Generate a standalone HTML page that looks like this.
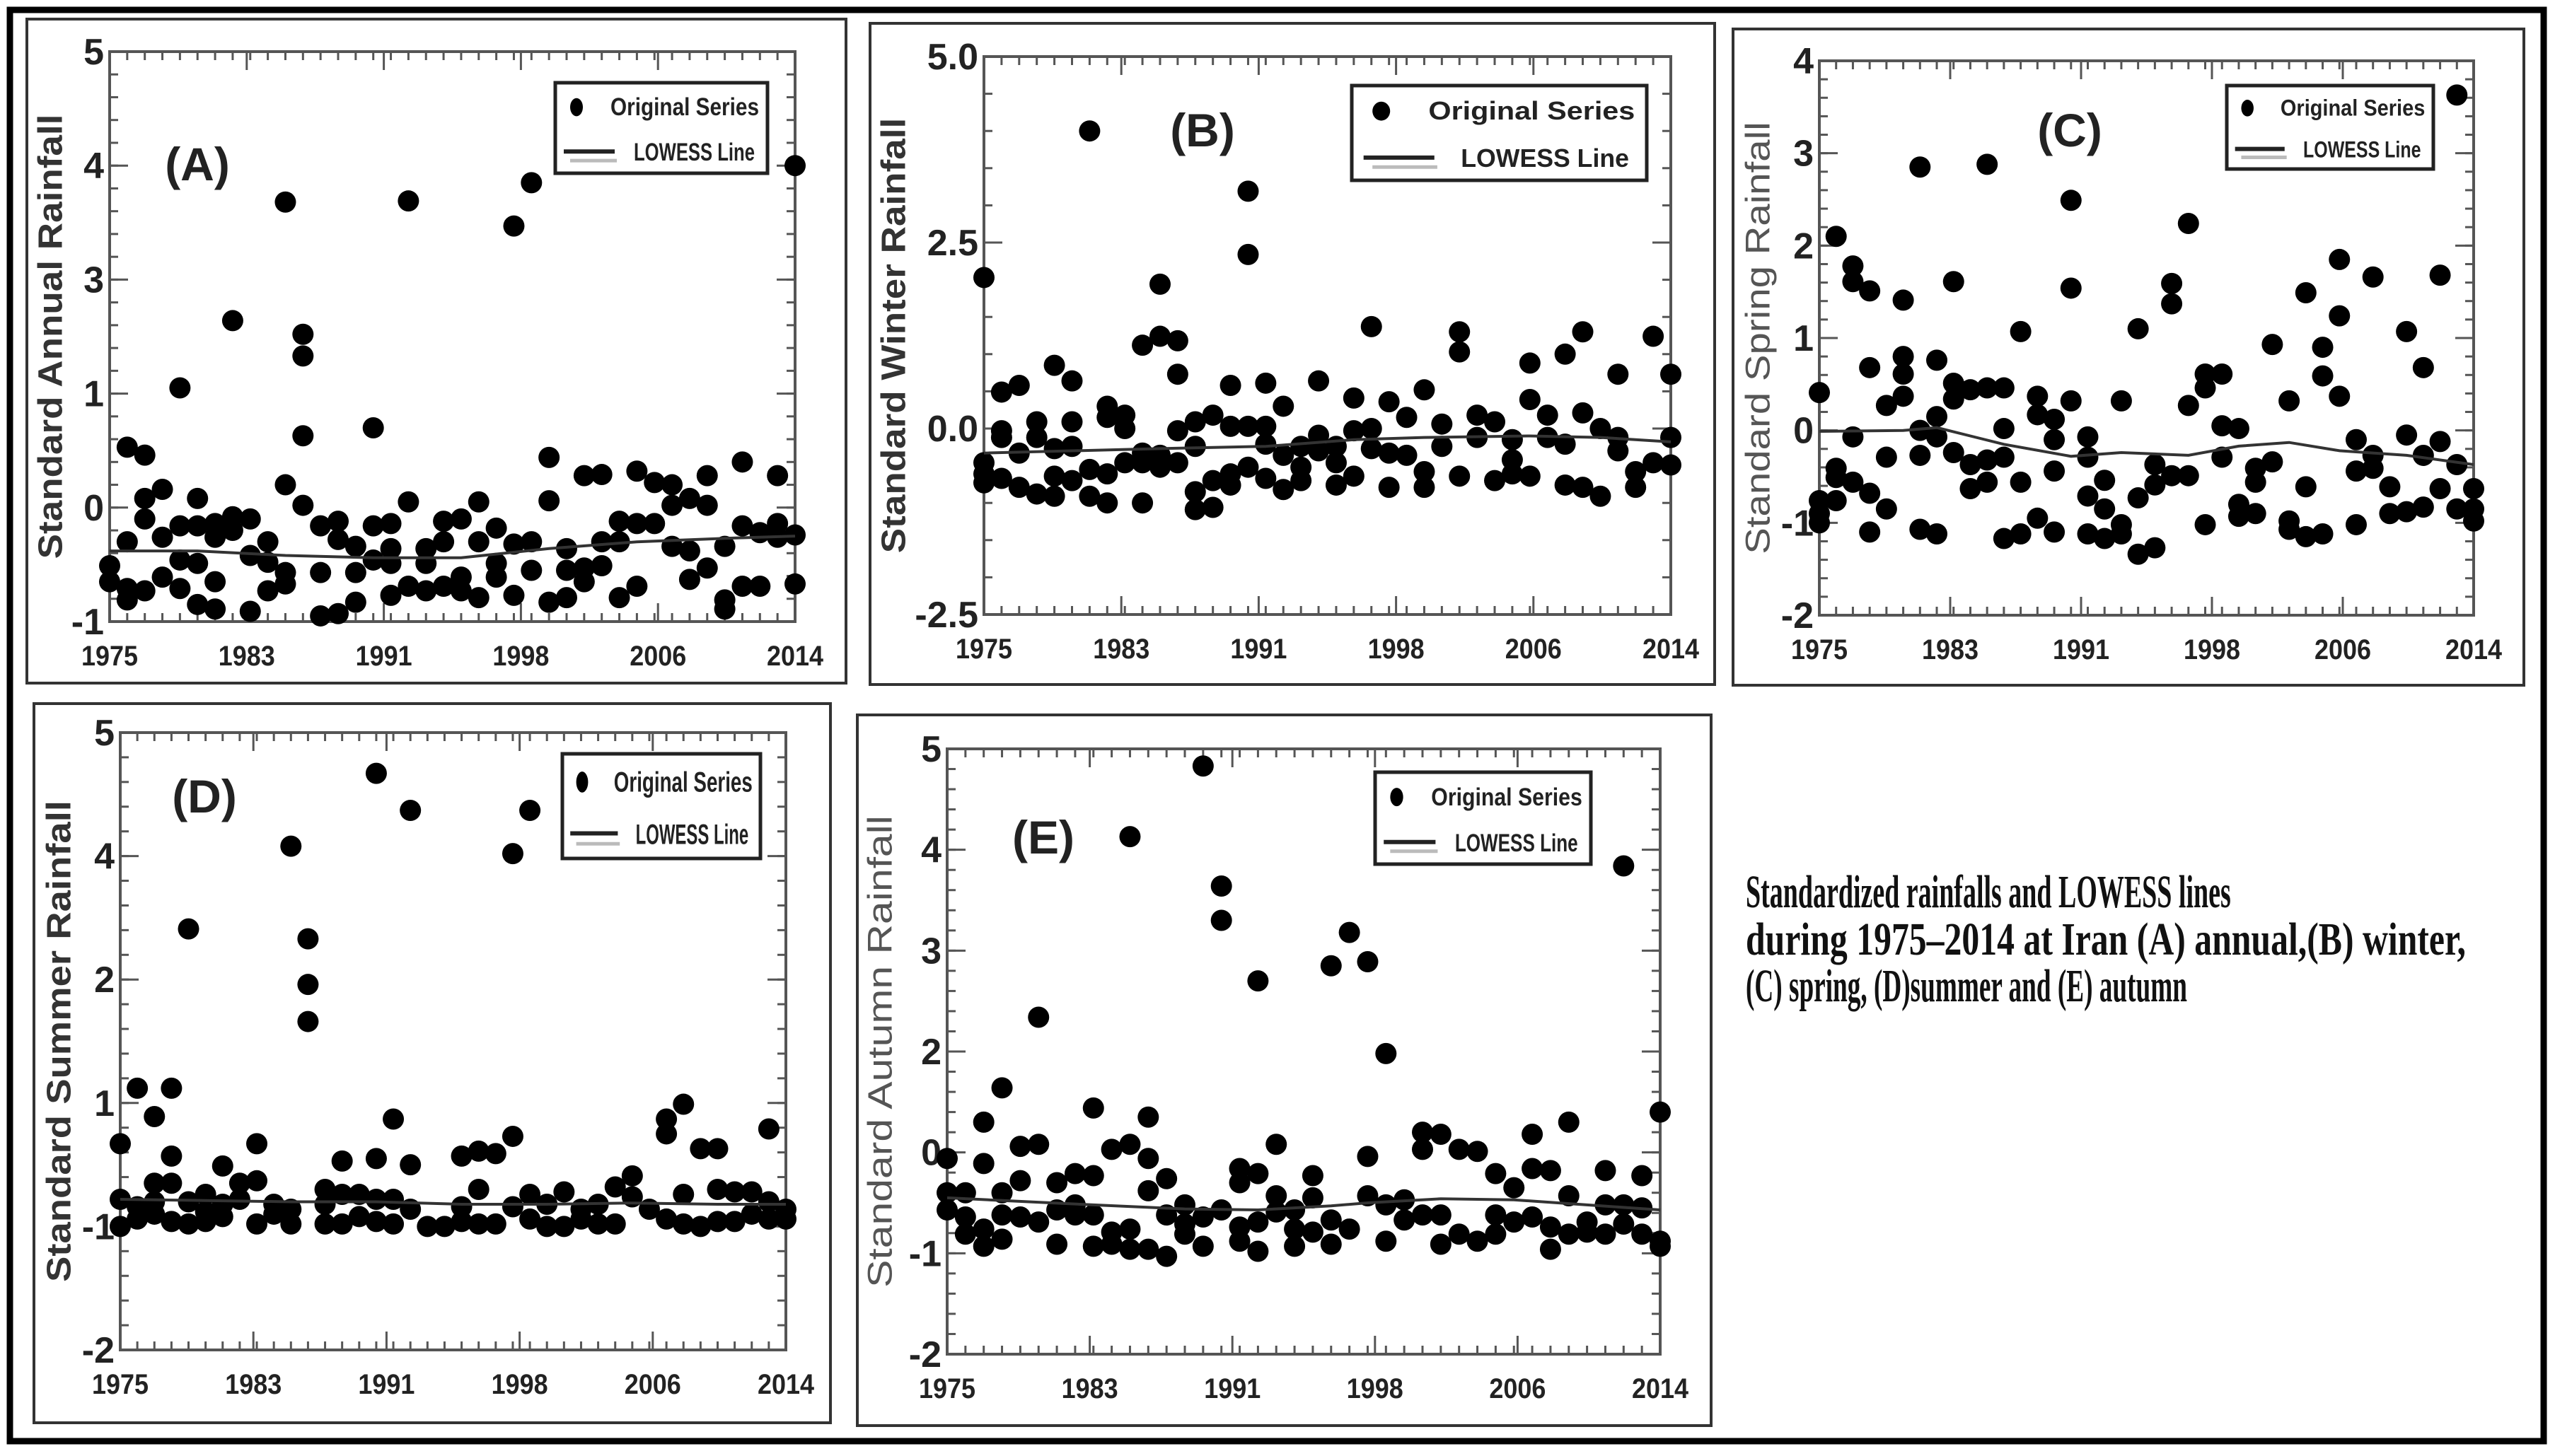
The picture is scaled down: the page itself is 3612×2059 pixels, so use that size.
<!DOCTYPE html>
<html><head><meta charset="utf-8"><title>Standardized rainfalls and LOWESS lines</title>
<style>html,body{margin:0;padding:0;background:#fff}svg{display:block}</style></head>
<body>
<svg id="fig" xmlns="http://www.w3.org/2000/svg" width="3612" height="2059" viewBox="0 0 3612 2059">
<rect x="0" y="0" width="3612" height="2059" fill="#fff"/>
<rect x="14" y="14" width="3582" height="2024" fill="none" stroke="#000" stroke-width="9"/>
<g font-family="Liberation Serif, serif" font-weight="bold" font-size="66" fill="#111">
<text id="cap1" x="0" y="0">Standardized rainfalls and LOWESS lines</text>
<text id="cap2" x="0" y="0">during 1975–2014 at Iran (A) annual,(B) winter,</text>
<text id="cap3" x="0" y="0">(C) spring, (D)summer and (E) autumn</text>
</g>
</svg>
<script>
// ---------- DATA ----------
var years = [1975,1976,1977,1978,1979,1980,1981,1982,1983,1984,1985,1986,1987,1988,1989,1990,1991,1992,1993,1994,1995,1996,1997,1998,1999,2000,2001,2002,2003,2004,2005,2006,2007,2008,2009,2010,2011,2012,2013,2014];
var xTickLabels = ["1975","1983","1991","1998","2006","2014"];

// Panel A (visual y units; ticks labelled below)
var annualVals = [[-0.51,-0.65],[0.53,-0.30,-0.71,-0.81],[0.46,0.08,-0.10,-0.73],[0.16,-0.26,-0.61],[1.05,-0.16,-0.46,-0.71],[0.08,-0.16,-0.49,-0.85],[-0.14,-0.26,-0.65,-0.89],[1.64,-0.08,-0.20],[-0.10,-0.42,-0.91],[-0.30,-0.48,-0.73],[2.68,0.20,-0.57,-0.67],[1.52,1.33,0.63,0.02],[-0.16,-0.57,-0.95],[-0.12,-0.28,-0.93],[-0.34,-0.57,-0.83],[0.70,-0.16,-0.46],[-0.14,-0.36,-0.49,-0.77],[2.69,0.05,-0.69],[-0.36,-0.49,-0.73],[-0.12,-0.30,-0.69],[-0.10,-0.61,-0.73],[0.05,-0.30,-0.79],[-0.18,-0.49,-0.61],[2.47,-0.32,-0.77],[2.85,-0.30,-0.55],[0.44,0.06,-0.83],[-0.36,-0.55,-0.79],[0.28,-0.53,-0.65],[0.29,-0.30,-0.51],[-0.12,-0.30,-0.79],[0.32,-0.14,-0.69],[0.22,-0.14],[0.20,0.02,-0.34],[0.08,-0.38,-0.63],[0.28,0.02,-0.53],[-0.34,-0.81,-0.89],[0.40,-0.16,-0.69],[-0.22,-0.69],[0.28,-0.14,-0.26],[3.00,-0.24,-0.67]];
var annualLowessYears = [1975,1980,1985,1990,1995,2000,2005,2010,2014];
var annualLowess = [-0.38,-0.38,-0.42,-0.44,-0.44,-0.36,-0.30,-0.27,-0.25];
var annualTickVals = [-1,0,1,2,3,4];
var annualTickLabels = ["-1","0","1","3","4","5"];

// Panel B
var winterVals = [[2.03,-0.46,-0.61,-0.73],[0.49,-0.03,-0.12,-0.67],[0.58,-0.33,-0.79],[0.09,-0.12,-0.88],[0.85,-0.27,-0.64,-0.91],[0.64,0.09,-0.24,-0.70],[4.00,-0.55,-0.91],[0.30,0.15,-0.61,-1.00],[0.18,0.00,-0.46],[1.12,-0.33,-0.46,-1.00],[1.94,1.24,-0.36,-0.52],[1.18,0.73,-0.03,-0.46],[0.09,-0.24,-0.85,-1.09],[0.18,-0.70,-1.06],[0.58,0.03,-0.61,-0.76],[3.19,2.34,0.03,-0.52],[0.61,0.03,-0.21,-0.67],[0.30,-0.36,-0.82],[-0.24,-0.52,-0.70],[0.64,-0.09,-0.30],[-0.24,-0.46,-0.76],[0.41,-0.03,-0.64],[1.37,0.00,-0.27],[0.36,-0.33,-0.79],[0.15,-0.36],[0.52,-0.58,-0.79],[0.06,-0.24],[1.30,1.03,-0.64],[0.18,-0.12],[0.09,-0.70],[-0.15,-0.42,-0.61],[0.88,0.39,-0.64],[0.18,-0.12],[1.00,-0.21,-0.76],[1.30,0.21,-0.79],[0.00,-0.91],[0.73,-0.12,-0.30],[-0.58,-0.79],[1.24,-0.46],[0.73,-0.12,-0.49]];
var winterLowessYears = [1975,1985,1991,1996,2000,2006,2010,2014];
var winterLowess = [-0.33,-0.27,-0.24,-0.15,-0.12,-0.10,-0.12,-0.18];
var winterTickVals = [-2.5,0,2.5,5];
var winterTickLabels = ["-2.5","0.0","2.5","5.0"];

// Panel C
var springVals = [[0.41,-0.76,-0.90,-1.00],[2.10,-0.41,-0.51,-0.76],[1.78,1.61,-0.07,-0.56],[1.51,0.68,-0.68,-1.10],[0.27,-0.29,-0.85],[1.41,0.80,0.61,0.37],[2.85,0.00,-0.27,-1.07],[0.76,0.15,-0.07,-1.12],[1.61,0.51,0.34,-0.24],[0.44,-0.37,-0.63],[2.88,0.46,-0.32,-0.56],[0.46,0.02,-0.29,-1.17],[1.07,-0.56,-1.12],[0.37,0.17,-0.95],[0.12,-0.10,-0.44,-1.10],[2.49,1.54,0.32],[-0.07,-0.29,-0.71,-1.12],[-0.54,-0.85,-1.17],[0.32,-1.02,-1.12],[1.10,-0.73,-1.34],[-0.37,-0.59,-1.27],[1.59,1.37,-0.49],[2.24,0.27,-0.49],[0.61,0.46,-1.02],[0.61,0.05,-0.29],[0.02,-0.80,-0.93],[-0.41,-0.56,-0.90],[0.93,-0.34],[0.32,-0.98,-1.07],[1.49,-0.61,-1.15],[0.90,0.59,-1.12],[1.85,1.24,0.37],[-0.10,-0.44,-1.02],[1.66,-0.27,-0.41],[-0.61,-0.90],[1.07,-0.05,-0.88],[0.68,-0.27,-0.83],[1.68,-0.12,-0.63],[3.63,-0.37,-0.85],[-0.63,-0.85,-0.98]];
var springLowessYears = [1975,1980,1982,1986,1990,1993,1997,2000,2003,2006,2010,2014];
var springLowess = [-0.01,0.00,0.03,-0.15,-0.28,-0.24,-0.27,-0.17,-0.13,-0.22,-0.27,-0.37];
var springTickVals = [-2,-1,0,1,2,3,4];
var springTickLabels = ["-2","-1","0","1","2","3","4"];

// Panel D (visual units)
var summerVals = [[-0.33,-0.78,-1.00],[0.12,-0.84,-0.94],[-0.11,-0.65,-0.80,-0.90],[0.12,-0.43,-0.65,-0.96],[1.41,-0.80,-0.98],[-0.74,-0.88,-0.96],[-0.51,-0.82,-0.92],[-0.65,-0.78],[-0.33,-0.63,-0.98],[-0.82,-0.90],[2.08,-0.86,-0.98],[1.33,0.96,0.66],[-0.70,-0.82,-0.98],[-0.47,-0.74,-0.98],[-0.74,-0.92],[2.67,-0.45,-0.78,-0.96],[-0.13,-0.78,-0.98],[2.37,-0.50,-0.86],[-1.00],[-1.00],[-0.43,-0.84,-0.96],[-0.39,-0.70,-0.98],[-0.41,-0.98],[2.02,-0.27,-0.84],[2.37,-0.74,-0.94],[-0.82,-1.00],[-0.72,-1.00],[-0.86,-0.94],[-0.82,-0.98],[-0.68,-0.98],[-0.59,-0.76],[-0.86],[-0.13,-0.25,-0.94],[-0.01,-0.74,-0.98],[-0.37,-1.00],[-0.37,-0.70,-0.96],[-0.72,-0.96],[-0.72,-0.90],[-0.21,-0.80,-0.94],[-0.86,-0.94]];
var summerLowessYears = [1975,1980,1985,1990,1995,2000,2005,2010,2014];
var summerLowess = [-0.78,-0.79,-0.80,-0.80,-0.82,-0.82,-0.81,-0.82,-0.82];
var summerTickVals = [-2,-1,0,1,2,3];
var summerTickLabels = ["-2","-1","1","2","4","5"];

// Panel E (visual units)
var autumnVals = [[-0.06,-0.40,-0.57],[-0.40,-0.64,-0.81],[0.30,-0.11,-0.76,-0.93],[0.64,-0.40,-0.62,-0.86],[0.06,-0.28,-0.64],[1.34,0.08,-0.69],[-0.30,-0.57,-0.91],[-0.21,-0.52,-0.62],[0.44,-0.23,-0.62,-0.93],[0.03,-0.79,-0.91],[3.13,0.08,-0.76,-0.96],[0.35,-0.06,-0.38,-0.96],[-0.26,-0.62,-1.03],[-0.52,-0.71,-0.81],[3.83,-0.64,-0.93],[2.64,2.30,-0.57],[-0.16,-0.30,-0.74,-0.88],[1.70,-0.21,-0.69,-0.98],[0.08,-0.43,-0.59],[-0.57,-0.76,-0.93],[-0.23,-0.45,-0.79],[1.85,-0.67,-0.91],[2.18,-0.76],[1.89,-0.04,-0.43],[0.98,-0.52,-0.88],[-0.47,-0.67],[0.20,0.03,-0.62],[0.18,-0.62,-0.91],[0.03,-0.81],[0.01,-0.88],[-0.21,-0.62,-0.81],[-0.35,-0.69],[0.18,-0.16,-0.64],[-0.18,-0.74,-0.96],[0.30,-0.43,-0.81],[-0.69,-0.79],[-0.18,-0.52,-0.81],[2.84,-0.52,-0.71],[-0.23,-0.55,-0.81],[0.40,-0.88,-0.93]];
var autumnLowessYears = [1975,1983,1988,1992,1996,1998,2002,2006,2010,2014];
var autumnLowess = [-0.45,-0.52,-0.56,-0.57,-0.53,-0.50,-0.46,-0.47,-0.52,-0.57];
var autumnTickVals = [-2,-1,0,1,2,3,4];
var autumnTickLabels = ["-2","-1","0","2","3","4","5"];

// ---------- CAPTION FIT ----------
[["cap1",2468,1283,686],["cap2",2468,1350,1018],["cap3",2468,1416,624]].forEach(function(c){
  var t = document.getElementById(c[0]);
  var w = t.getComputedTextLength() || c[3];
  t.setAttribute("transform", "translate(" + c[1] + " " + c[2] + ") scale(" + (c[3]/w).toFixed(4) + " 1)");
});

// ---------- LAYOUT ----------
var NS = "http://www.w3.org/2000/svg";
var svg = document.getElementById("fig");
function mk(tag, attrs, parent) {
  var e = document.createElementNS(NS, tag);
  for (var k in attrs) e.setAttribute(k, attrs[k]);
  (parent || svg).appendChild(e);
  return e;
}
var panels = [
  {id:"a", letter:"(A)", title:"Standard Annual Rainfall", vals:annualVals, ly:annualLowessYears, lv:annualLowess, tv:annualTickVals, tl:annualTickLabels, yMin:-1, yMax:4, minorStep:0.2,
   frame:[38,27,1158,939], plot:[155,73,1124,879], letterPos:[279,255], legend:[785,117,300,128], titleX:72, titleBold:true, titleColor:"#333"},
  {id:"b", letter:"(B)", title:"Standard Winter Rainfall", vals:winterVals, ly:winterLowessYears, lv:winterLowess, tv:winterTickVals, tl:winterTickLabels, yMin:-2.5, yMax:5, minorStep:0.5,
   frame:[1230,33,1194,935], plot:[1391,80,2362,869], letterPos:[1700,207], legend:[1911,121,417,134], titleX:1264, titleBold:true, titleColor:"#333"},
  {id:"c", letter:"(C)", title:"Standard Spring Rainfall", vals:springVals, ly:springLowessYears, lv:springLowess, tv:springTickVals, tl:springTickLabels, yMin:-2, yMax:4, minorStep:0.2,
   frame:[2450,41,1118,928], plot:[2572,86,3497,870], letterPos:[2926,207], legend:[3148,121,292,118], titleX:2486, titleBold:false, titleColor:"#555"},
  {id:"d", letter:"(D)", title:"Standard Summer Rainfall", vals:summerVals, ly:summerLowessYears, lv:summerLowess, tv:summerTickVals, tl:summerTickLabels, yMin:-2, yMax:3, minorStep:0.2,
   frame:[48,995,1126,1017], plot:[170,1036,1111,1909], letterPos:[289,1149], legend:[795,1066,280,148], titleX:84, titleBold:true, titleColor:"#333"},
  {id:"e", letter:"(E)", title:"Standard Autumn Rainfall", vals:autumnVals, ly:autumnLowessYears, lv:autumnLowess, tv:autumnTickVals, tl:autumnTickLabels, yMin:-2, yMax:4, minorStep:0.2,
   frame:[1212,1011,1207,1005], plot:[1339,1059,2347,1915], letterPos:[1475,1207], legend:[1944,1092,305,130], titleX:1245, titleBold:false, titleColor:"#555"}
];

panels.forEach(function(p){
  var g = mk("g", {});
  
  
  var fr = mk("rect", {x:p.frame[0], y:p.frame[1], width:p.frame[2], height:p.frame[3], fill:"none", stroke:"#333", "stroke-width":4}, g);
  
  
  var L=p.plot[0], T=p.plot[1], R=p.plot[2], B=p.plot[3];
  function xs(yr){ return L + (yr-1975)/(2014-1975)*(R-L); }
  function ys(v){ return B - (v-p.yMin)/(p.yMax-p.yMin)*(B-T); }
  var box = mk("rect", {x:L, y:T, width:R-L, height:B-T, fill:"none", stroke:"#555", "stroke-width":4}, g);
  
  
  var tg = mk("g", {stroke:"#555", "stroke-width":3}, g);
  
  
  for (var i=0;i<years.length;i++){
    var x = xs(years[i]);
    mk("line",{x1:x,y1:B,x2:x,y2:B-12},tg);
    mk("line",{x1:x,y1:T,x2:x,y2:T+12},tg);
  }
  xTickLabels.forEach(function(lab, i){
    var yr = 1975 + i*(2014-1975)/(xTickLabels.length-1);
    var x = xs(yr);
    mk("line",{x1:x,y1:B,x2:x,y2:B-26},tg);
    mk("line",{x1:x,y1:T,x2:x,y2:T+26},tg);
    var t = mk("text",{x:x, y:B+62, "text-anchor":"middle", "font-family":"Liberation Sans, sans-serif", "font-weight":"bold", "font-size":40, fill:"#222", textLength:80, lengthAdjust:"spacingAndGlyphs"}, g);
    t.textContent = lab;
    
    
  });
  var nMinor = Math.round((p.yMax-p.yMin)/p.minorStep);
  for (var j=0;j<=nMinor;j++){
    var y = ys(p.yMin + j*p.minorStep);
    mk("line",{x1:L,y1:y,x2:L+12,y2:y},tg);
    mk("line",{x1:R,y1:y,x2:R-12,y2:y},tg);
  }
  p.tv.forEach(function(v, i){
    var y = ys(v);
    mk("line",{x1:L,y1:y,x2:L+26,y2:y},tg);
    mk("line",{x1:R,y1:y,x2:R-26,y2:y},tg);
    var t = mk("text",{x:L-8, y:y+18, "text-anchor":"end", "font-family":"Liberation Sans, sans-serif", "font-weight":"bold", "font-size":52, fill:"#222"}, g);
    t.textContent = p.tl[i];
    
    
  });
  var cy = (T+B)/2;
  var tt = mk("text",{x:p.titleX, y:cy, transform:"rotate(-90 "+p.titleX+" "+cy+")", "text-anchor":"middle", "dominant-baseline":"central", "font-family":"Liberation Sans, sans-serif", "font-weight":p.titleBold?"bold":"normal", "font-size":48, fill:p.titleColor, textLength:(B-T)*0.78, lengthAdjust:"spacingAndGlyphs"}, g);
  tt.textContent = p.title;
  
  
  var lt = mk("text",{x:p.letterPos[0], y:p.letterPos[1], "text-anchor":"middle", "font-family":"Liberation Sans, sans-serif", "font-weight":"bold", "font-size":66, fill:"#222"}, g);
  lt.textContent = p.letter;
  
  
  var pg = mk("g", {fill:"#000"}, g);
  
  
  p.vals.forEach(function(arr, i){
    arr.forEach(function(v){
      var c = mk("ellipse",{cx:xs(years[i]), cy:ys(v), rx:15, ry:15}, pg);
      
      
    });
  });
  var d = p.ly.map(function(yr,i){ return (i?"L":"M") + xs(yr).toFixed(1) + " " + ys(p.lv[i]).toFixed(1); }).join(" ");
  var lw = mk("path",{d:d, fill:"none", stroke:"#333", "stroke-width":4}, g);
  
  
  var lx=p.legend[0], ly=p.legend[1], w=p.legend[2], h=p.legend[3];
  var lg = mk("g", {}, g);
  
  
  mk("rect",{x:lx,y:ly,width:w,height:h,fill:"#fff",stroke:"#222","stroke-width":5},lg);
  mk("ellipse",{cx:lx+0.10*w, cy:ly+0.27*h, rx:w*0.03, ry:h*0.1, fill:"#000"},lg);
  var fs = Math.round(h*0.27);
  var t1 = mk("text",{x:lx+0.26*w, y:ly+0.36*h, "font-family":"Liberation Sans, sans-serif", "font-weight":"bold", "font-size":fs, fill:"#222", textLength:0.70*w, lengthAdjust:"spacingAndGlyphs"},lg);
  t1.textContent = "Original Series";
  
  
  mk("line",{x1:lx+0.04*w, y1:ly+0.76*h, x2:lx+0.28*w, y2:ly+0.76*h, stroke:"#222","stroke-width":6},lg);
  mk("line",{x1:lx+0.07*w, y1:ly+0.86*h, x2:lx+0.29*w, y2:ly+0.86*h, stroke:"#bbb","stroke-width":5},lg);
  var t2 = mk("text",{x:lx+0.37*w, y:ly+0.86*h, "font-family":"Liberation Sans, sans-serif", "font-weight":"bold", "font-size":fs, fill:"#222", textLength:0.57*w, lengthAdjust:"spacingAndGlyphs"},lg);
  t2.textContent = "LOWESS Line";
  
  
});
</script>
</body></html>
